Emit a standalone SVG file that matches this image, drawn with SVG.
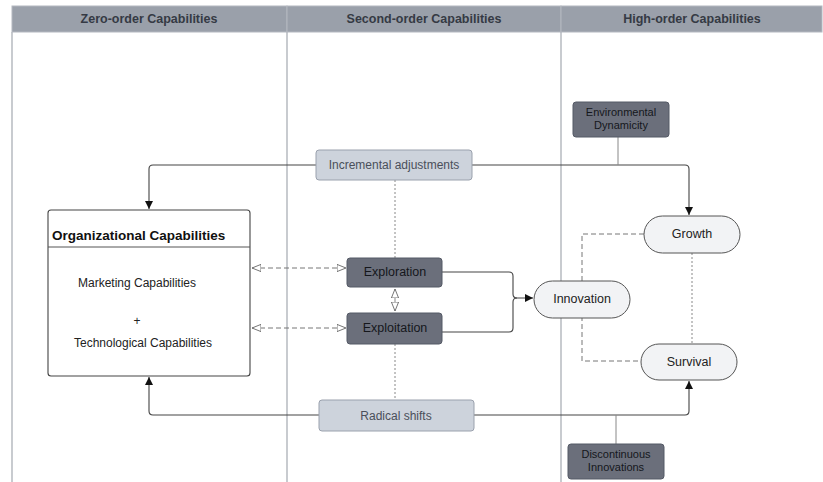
<svg xmlns="http://www.w3.org/2000/svg" width="823" height="482" viewBox="0 0 823 482">
<defs>
<style>
.lane{stroke:#a3a8b0;stroke-width:1.2;fill:none}
.hdr{fill:#9aa0aa;stroke:#b4b8c0;stroke-width:1}
.ht{font-family:"Liberation Sans",Arial,sans-serif;font-weight:bold;font-size:12.5px;fill:#353a44;text-anchor:middle}
.lt{fill:#cdd3dc;stroke:#9aa1ad;stroke-width:1}
.lt-t{font-family:"Liberation Sans",Arial,sans-serif;font-size:12px;fill:#4a4f5a;text-anchor:middle}
.dk{fill:#6b6f7b;stroke:#555a66;stroke-width:1}
.dk-t{font-family:"Liberation Sans",Arial,sans-serif;font-size:12.5px;fill:#15171c;text-anchor:middle}
.dk-s{font-family:"Liberation Sans",Arial,sans-serif;font-size:11px;fill:#15171c;text-anchor:middle}
.st{fill:#f2f3f5;stroke:#555;stroke-width:1}
.st-t{font-family:"Liberation Sans",Arial,sans-serif;font-size:12.5px;fill:#222;text-anchor:middle}
.body{font-family:"Liberation Sans",Arial,sans-serif;font-size:12px;fill:#222;text-anchor:middle}
.c{fill:none;stroke:#444;stroke-width:1.1}
.cg{fill:none;stroke:#888;stroke-width:1}
.dash{fill:none;stroke:#777;stroke-width:1;stroke-dasharray:5 3}
.dot{fill:none;stroke:#888;stroke-width:1;stroke-dasharray:2 2}
</style>
<marker id="ar" viewBox="0 0 10 10" refX="10" refY="5" markerWidth="8" markerHeight="8" orient="auto-start-reverse" markerUnits="userSpaceOnUse">
<path d="M0,0 L10,5 L0,10 z" fill="#111"/>
</marker>
<marker id="oa" viewBox="0 0 10 10" refX="10" refY="5" markerWidth="9" markerHeight="9" orient="auto-start-reverse" markerUnits="userSpaceOnUse">
<path d="M0,1 L10,5 L0,9 z" fill="#fff" stroke="#666" stroke-width="1"/>
</marker>
</defs>

<g id="lanes">
<line class="lane" x1="12" y1="32" x2="12" y2="482"/>
<line class="lane" x1="287" y1="32" x2="287" y2="482"/>
<line class="lane" x1="561" y1="32" x2="561" y2="482"/>
<rect class="hdr" x="12" y="6" width="275" height="26"/>
<rect class="hdr" x="287" y="6" width="274" height="26"/>
<rect class="hdr" x="561" y="6" width="261" height="26"/>
<text class="ht" x="149" y="23">Zero-order Capabilities</text>
<text class="ht" x="424" y="23">Second-order Capabilities</text>
<text class="ht" x="692" y="23">High-order Capabilities</text>
</g>

<g id="connectors">
<path class="c" d="M316,165 H153 Q149,165 149,169 V209" marker-end="url(#ar)"/>
<path class="c" d="M472,165 H685 Q689,165 689,169 V215" marker-end="url(#ar)"/>
<path class="cg" d="M618,137 V165"/>
<path class="c" d="M319,415 H153 Q149,415 149,411 V377" marker-end="url(#ar)"/>
<path class="c" d="M474,415 H685 Q689,415 689,411 V381" marker-end="url(#ar)"/>
<path class="cg" d="M616,444 V415"/>
<path class="dot" d="M395,180 V258"/>
<path class="dot" d="M395,344 V400"/>
<path class="dash" d="M252,268 H346" marker-start="url(#oa)" marker-end="url(#oa)"/>
<path class="dash" d="M252,328 H346" marker-start="url(#oa)" marker-end="url(#oa)"/>
<path class="cg" d="M395,289 V311" marker-start="url(#oa)" marker-end="url(#oa)"/>
<path class="c" d="M442,272 H509 Q513,272 513,276 V294 Q513,298 517,298 H533" marker-end="url(#ar)"/>
<path class="c" d="M442,332 H509 Q513,332 513,328 V302 Q513,298 517,298"/>
<path class="dash" d="M644,234 H582 V361 H641"/>
<path class="dot" d="M692,253 V344"/>
</g>

<g id="incremental">
<rect class="lt" x="316" y="150" width="156" height="30" rx="3"/>
<text class="lt-t" x="394" y="169">Incremental adjustments</text>
</g>
<g id="radical">
<rect class="lt" x="319" y="400" width="155" height="31" rx="3"/>
<text class="lt-t" x="396" y="420">Radical shifts</text>
</g>
<g id="env">
<rect class="dk" x="573" y="102" width="96" height="35" rx="3"/>
<text class="dk-s" x="621" y="116">Environmental</text>
<text class="dk-s" x="621" y="129">Dynamicity</text>
</g>
<g id="disc">
<rect class="dk" x="568" y="444" width="96" height="35" rx="3"/>
<text class="dk-s" x="616" y="458">Discontinuous</text>
<text class="dk-s" x="616" y="471">Innovations</text>
</g>
<g id="orgcap">
<rect x="48" y="210" width="202" height="166" rx="3" fill="#fff" stroke="#444" stroke-width="1.1"/>
<line x1="48" y1="247" x2="250" y2="247" stroke="#555" stroke-width="1"/>
<text x="52" y="240" font-family="'Liberation Sans',Arial,sans-serif" font-size="13.5px" font-weight="bold" fill="#111">Organizational Capabilities</text>
<text class="body" x="137" y="287">Marketing Capabilities</text>
<text class="body" x="137" y="325">+</text>
<text class="body" x="143" y="347">Technological Capabilities</text>
</g>
<g id="exploration">
<rect class="dk" x="347" y="258" width="95" height="29" rx="3"/>
<text class="dk-t" x="395" y="276">Exploration</text>
</g>
<g id="exploitation">
<rect class="dk" x="347" y="313" width="95" height="31" rx="3"/>
<text class="dk-t" x="395" y="332">Exploitation</text>
</g>
<g id="innovation">
<rect class="st" x="534" y="281" width="96" height="37" rx="18.5"/>
<text class="st-t" x="582" y="303">Innovation</text>
</g>
<g id="growth">
<rect class="st" x="644" y="216" width="96" height="37" rx="18.5"/>
<text class="st-t" x="692" y="238">Growth</text>
</g>
<g id="survival">
<rect class="st" x="641" y="344" width="96" height="36" rx="18"/>
<text class="st-t" x="689" y="366">Survival</text>
</g>
</svg>
